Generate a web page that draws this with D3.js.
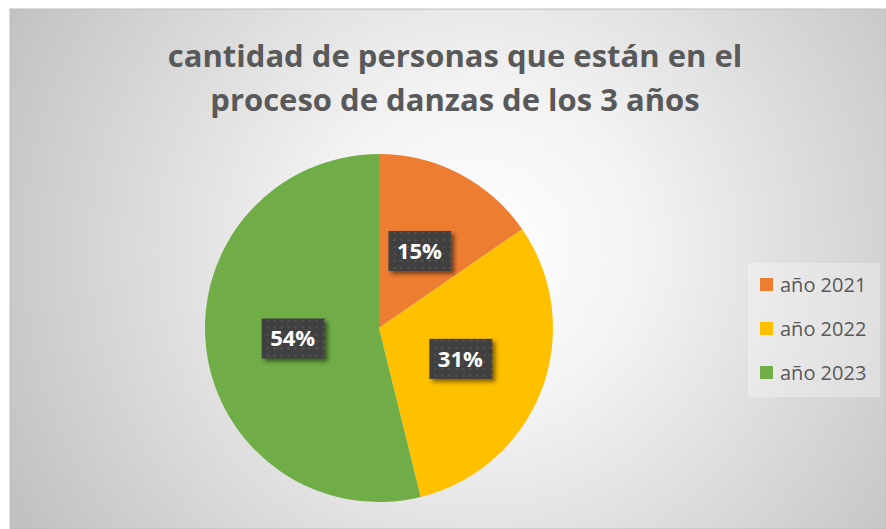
<!DOCTYPE html>
<html lang="es">
<head>
  <meta charset="utf-8" />
  <title>Danzas pie</title>
  <style>
    body { margin: 0; background: #fff; font-family: "Open Sans", sans-serif; }
  </style>
  <script src="https://d3js.org/d3.v7.min.js"></script>
</head>
<body>
  <svg width="886" height="529"></svg>
  <script>
    // data
    const categories = ["año 2021", "año 2022", "año 2023"];
    const values = [10, 20, 35];
    const colors = ["#ED7D31", "#FFC000", "#70AD47"];
    const titleLines = ["cantidad de personas que están en el", "proceso de danzas de los 3 años"];

    const svg = d3.select("svg");
    const defs = svg.append("defs");

    // background gradient
    const bg = defs.append("radialGradient")
      .attr("id", "bg")
      .attr("gradientUnits", "userSpaceOnUse")
      .attr("cx", 480).attr("cy", 250).attr("r", 540);
    bg.append("stop").attr("offset", 0).attr("stop-color", "#ffffff");
    bg.append("stop").attr("offset", 0.3).attr("stop-color", "#f3f3f3");
    bg.append("stop").attr("offset", 1).attr("stop-color", "#c0c0c0");

    // dotted fill for data labels
    const pat = defs.append("pattern")
      .attr("id", "dots")
      .attr("patternUnits", "userSpaceOnUse")
      .attr("width", 7).attr("height", 7);
    pat.append("rect").attr("width", 7).attr("height", 7).attr("fill", "#404040");
    pat.append("rect").attr("x", 2).attr("y", 2).attr("width", 2).attr("height", 2).attr("fill", "#545454");

    const shadow = defs.append("filter").attr("id", "shadow")
      .attr("x", "-20%").attr("y", "-20%").attr("width", "150%").attr("height", "160%");
    shadow.append("feDropShadow")
      .attr("dx", 3).attr("dy", 3).attr("stdDeviation", 2)
      .attr("flood-color", "#000").attr("flood-opacity", 0.5);

    svg.append("rect")
      .attr("x", 10).attr("y", 9).attr("width", 876).attr("height", 520)
      .attr("fill", "url(#bg)")
      .attr("stroke", "#bdbdbd").attr("stroke-width", 1);

    // title
    svg.append("g")
      .selectAll("text")
      .data(titleLines)
      .join("text")
      .attr("x", 455)
      .attr("y", (d, i) => 67 + i * 44)
      .attr("text-anchor", "middle")
      .attr("font-size", 31)
      .attr("font-weight", "bold")
      .attr("fill", "#595959")
      .text(d => d);

    // pie
    const cx = 379, cy = 328, r = 174;
    const pie = d3.pie().sort(null).value(d => d);
    const arcs = pie(values);
    const arc = d3.arc().innerRadius(0).outerRadius(r);

    const g = svg.append("g").attr("transform", `translate(${cx},${cy})`);
    g.selectAll("path")
      .data(arcs)
      .join("path")
      .attr("d", arc)
      .attr("fill", (d, i) => colors[i]);

    // data labels
    const total = d3.sum(values);
    const fmt = d3.format(".0%");
    const lab = g.selectAll("g.lab")
      .data(arcs)
      .join("g")
      .attr("class", "lab")
      .attr("transform", d => `translate(${arc.centroid(d)})`);
    lab.append("rect")
      .attr("x", -31).attr("y", -20)
      .attr("width", 63).attr("height", 40)
      .attr("fill", "url(#dots)")
      .attr("filter", "url(#shadow)");
    lab.append("text")
      .attr("text-anchor", "middle")
      .attr("dy", "0.36em")
      .attr("font-size", 22)
      .attr("font-weight", "bold")
      .attr("fill", "#fff")
      .text(d => fmt(d.value / total));

    // legend
    svg.append("rect")
      .attr("x", 748).attr("y", 263).attr("width", 132).attr("height", 134)
      .attr("fill", "#ffffff").attr("fill-opacity", 0.3);
    const leg = svg.append("g")
      .selectAll("g")
      .data(categories)
      .join("g")
      .attr("transform", (d, i) => `translate(760,${285 + i * 44})`);
    leg.append("rect")
      .attr("x", 0).attr("y", -7)
      .attr("width", 13).attr("height", 13)
      .attr("fill", (d, i) => colors[i]);
    leg.append("text")
      .attr("x", 20)
      .attr("dy", "0.35em")
      .attr("font-size", 20)
      .attr("fill", "#595959")
      .text(d => d);
  </script>
</body>
</html>
